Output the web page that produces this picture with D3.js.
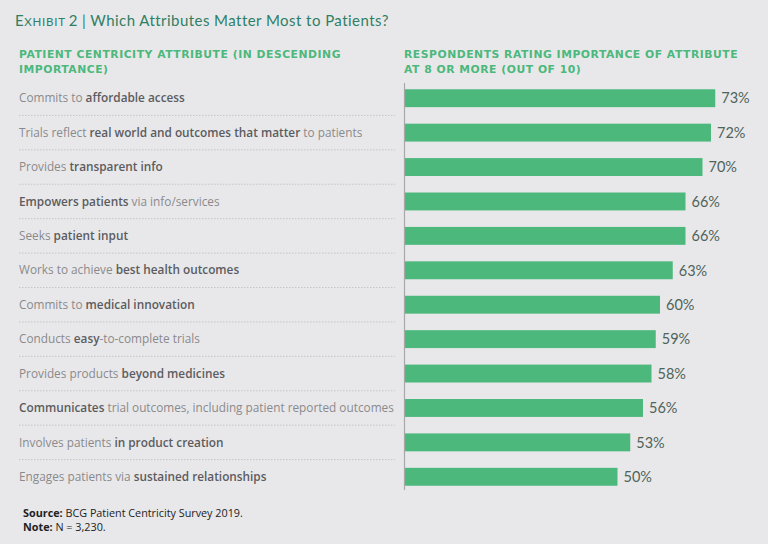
<!DOCTYPE html>
<html>
<head>
<meta charset="utf-8">
<script src="https://cdn.jsdelivr.net/npm/d3@7"></script>
<style>
  body { margin: 0; background: #e8e8ea; }
  svg { display: block; font-family: "Open Sans", sans-serif; }
</style>
</head>
<body>
<svg id="chart" viewBox="0 0 768 544" width="768" height="544"></svg>
<script>
// attributes, bold parts wrapped in ** **
const attributes = [
    "Commits to **affordable access**",
    "Trials reflect **real world and outcomes that matter** to patients",
    "Provides **transparent info**",
    "**Empowers patients** via info/services",
    "Seeks **patient input**",
    "Works to achieve **best health outcomes**",
    "Commits to **medical innovation**",
    "Conducts **easy**-to-complete trials",
    "Provides products **beyond medicines**",
    "**Communicates** trial outcomes, including patient reported outcomes",
    "Involves patients **in product creation**",
    "Engages patients via **sustained relationships**"
]
const shares = [73, 72, 70, 66, 66, 63, 60, 59, 58, 56, 53, 50]

const leftHeader = ["PATIENT CENTRICITY ATTRIBUTE (IN DESCENDING", "IMPORTANCE)"]
const rightHeader = ["RESPONDENTS RATING IMPORTANCE OF ATTRIBUTE", "AT 8 OR MORE (OUT OF 10)"]

const svg = d3.select("#chart")
const green = "#4cb87c"

// title
const title = svg.append("text")
    .attr("x", 15).attr("y", 26)
    .attr("fill", "#2f7f64")
    .attr("font-family", "Lato, sans-serif")
    .attr("font-size", 15)
    .attr("letter-spacing", 0.45)
title.append("tspan").text("E")
title.append("tspan").attr("font-size", 11.5).attr("letter-spacing", 0.8).text("XHIBIT")
title.append("tspan").attr("dx", 3).text("2")
title.append("tspan").attr("dx", 4).text("| Which Attributes Matter Most to Patients?")

// column headers
svg.append("g").selectAll("text")
    .data(leftHeader).enter()
    .append("text")
    .attr("x", 19).attr("y", (d, i) => 58 + i * 15)
    .attr("fill", green).attr("font-weight", "bold").attr("font-size", 10.8)
    .attr("font-family", "DejaVu Sans, sans-serif")
    .attr("letter-spacing", 0.52)
    .text(d => d)
svg.append("g").selectAll("text")
    .data(rightHeader).enter()
    .append("text")
    .attr("x", 404).attr("y", (d, i) => 58 + i * 15)
    .attr("fill", green).attr("font-weight", "bold").attr("font-size", 10.8)
    .attr("font-family", "DejaVu Sans, sans-serif")
    .attr("letter-spacing", 0.52)
    .text(d => d)

const y = d3.scaleBand()
    .domain(d3.range(attributes.length))
    .range([81, 494])
    .paddingInner(0.48).paddingOuter(0.24)

const x = d3.scaleLinear()
    .domain([0, 100])
    .range([405, 830])

const rowStep = y.step()

// dotted separators between rows
svg.append("g").selectAll("line")
    .data(d3.range(attributes.length - 1)).enter()
    .append("line")
    .attr("x1", 19).attr("x2", 395)
    .attr("y1", i => y(i) + y.bandwidth() / 2 + rowStep / 2)
    .attr("y2", i => y(i) + y.bandwidth() / 2 + rowStep / 2)
    .attr("stroke", "#bdbdc0").attr("stroke-width", 0.8)
    .attr("stroke-dasharray", "1.5,1.5")

// row labels
const labels = svg.append("g").selectAll("text")
    .data(attributes).enter()
    .append("text")
    .attr("x", 19)
    .attr("y", (d, i) => y(i) + y.bandwidth() / 2)
    .attr("dy", "0.35em")
    .attr("font-size", 11.8)
labels.each(function (d) {
    const parts = d.split("**")
    const t = d3.select(this)
    parts.forEach((p, j) => {
        if (p === "") return
        t.append("tspan")
            .attr("fill", j % 2 ? "#5c5c5f" : "#8a8a8c")
            .attr("font-weight", j % 2 ? 600 : 400)
            .text(p)
    })
})

// bars
svg.append("g").selectAll("rect")
    .data(shares).enter()
    .append("rect")
    .attr("x", x(0))
    .attr("y", (d, i) => y(i))
    .attr("width", d => x(d) - x(0))
    .attr("height", y.bandwidth())
    .attr("fill", green)

// value labels
svg.append("g").selectAll("text")
    .data(shares).enter()
    .append("text")
    .attr("x", d => x(d) + 6)
    .attr("y", (d, i) => y(i) + y.bandwidth() / 2)
    .attr("dy", "0.36em")
    .attr("fill", "#4f6359")
    .attr("font-family", "Lato, sans-serif")
    .attr("font-size", 14.5)
    .text(d => d + "%")

// axis line
svg.append("line")
    .attr("x1", 404.5).attr("x2", 404.5)
    .attr("y1", 83).attr("y2", 490)
    .attr("stroke", "#a8a8aa").attr("stroke-width", 1.2)

// source + note
const foot = svg.append("g").attr("font-size", 10.8).attr("fill", "#222")
const s = foot.append("text").attr("x", 23).attr("y", 517)
s.append("tspan").attr("font-weight", "bold").text("Source:")
s.append("tspan").text(" BCG Patient Centricity Survey 2019.")
const n = foot.append("text").attr("x", 23).attr("y", 531)
n.append("tspan").attr("font-weight", "bold").text("Note:")
n.append("tspan").text(" N = 3,230.")
</script>
</body>
</html>
